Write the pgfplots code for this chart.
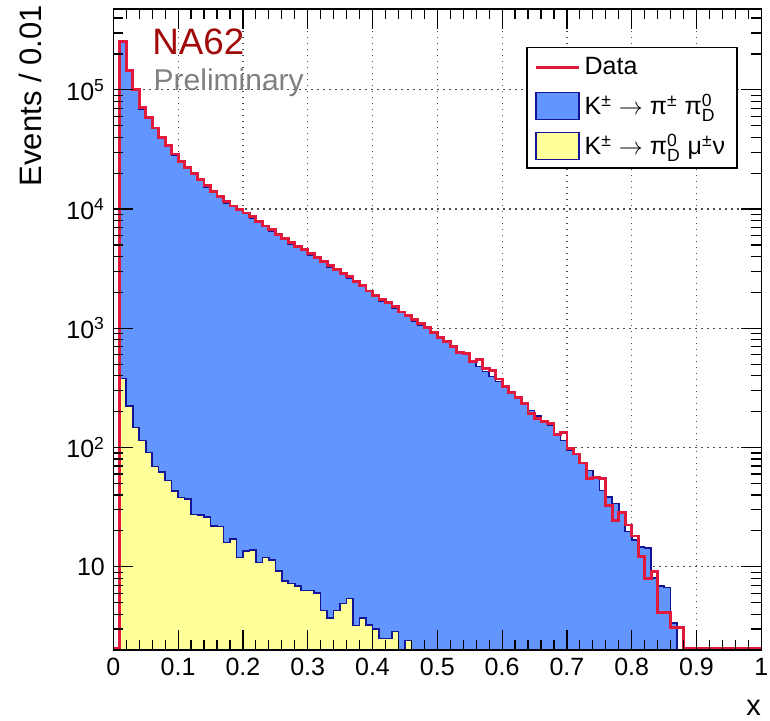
\documentclass[border=0pt]{standalone}
\usepackage{fontspec}
\setmainfont{Liberation Sans}
\setsansfont{Liberation Sans}
\usepackage{pgfplots}
\usepackage{pgfplotstable}
\pgfplotsset{compat=1.18}

\definecolor{mcblue}{RGB}{99,149,255}
\definecolor{mcline}{RGB}{20,20,150}
\definecolor{kmuyel}{RGB}{255,255,153}
\definecolor{datared}{RGB}{225,25,60}
\definecolor{nared}{RGB}{160,10,10}

\newcommand{\scr}[1]{\mbox{\fontsize{8.8}{9}\selectfont #1}}
\newcommand{\pizd}{π$^{\scr{0}}_{\scr{D}}$}

% grid under the histograms, ticks and frame above them (ROOT style)
\pgfplotsset{
  layers/gridbelow/.define layer set={
    axis background,axis grid,main,axis ticks,axis lines,axis tick labels,axis descriptions,axis foreground
  }{
    grid style={/pgfplots/on layer=axis grid},
    tick style={/pgfplots/on layer=axis ticks},
    axis line style={/pgfplots/on layer=axis lines},
    label style={/pgfplots/on layer=axis descriptions},
    legend style={/pgfplots/on layer=axis descriptions},
    title style={/pgfplots/on layer=axis descriptions},
    colorbar style={/pgfplots/on layer=axis descriptions},
    ticklabel style={/pgfplots/on layer=axis tick labels},
    axis background@ style={/pgfplots/on layer=axis background},
    3d box foreground style={/pgfplots/on layer=axis foreground},
  },
  hline legend/.style={legend image code/.code={\draw[##1] (0pt,0pt) -- (21.5pt,0pt);}},
  hbox legend/.style={legend image code/.code={\draw[##1] (0pt,-6.75pt) rectangle (21.5pt,6.75pt);}},
}

% x = left bin edge, bins of 0.01; 0.5 = empty bin (below ymin)
\pgfplotstableread{
x    data    mc      yel
0.00 2.06    0.5     0.5
0.01 254000  254000  380
0.02 145000  145000  223
0.03 100000  100000  147
0.04 71600   69000   114
0.05 59000   59000   91
0.06 47800   47800   69
0.07 40100   40100   62
0.08 33900   33900   53
0.09 29000   28500   43
0.10 25100   25100   38
0.11 22300   22300   37
0.12 20000   19500   27.5
0.13 17600   17600   27
0.14 15700   15300   26
0.15 14000   14000   22
0.16 12700   12700   21.7
0.17 11600   11300   16
0.18 10600   10600   17
0.19 9900    9700    11.9
0.20 9250    9250    13.6
0.21 8600    8350    13.8
0.22 7900    7900    10.8
0.23 7200    7200    11.9
0.24 6700    6500    11.4
0.25 6150    6150    9.2
0.26 5650    5650    7.6
0.27 5250    5100    7.2
0.28 4850    4850    6.9
0.29 4550    4550    6.3
0.30 4250    4100    6.3
0.31 3950    3950    6.0
0.32 3650    3650    4.3
0.33 3380    3250    3.7
0.34 3120    3120    4.3
0.35 2900    2900    4.9
0.36 2700    2620    5.4
0.37 2480    2480    3.2
0.38 2280    2280    3.7
0.39 2050    2050    3.25
0.40 1870    1870    3.0
0.41 1730    1680    2.5
0.42 1640    1640    2.5
0.43 1520    1480    2.85
0.44 1370    1370    0.5
0.45 1270    1270    2.4
0.46 1190    1150    0.5
0.47 1100    1060    0.5
0.48 1020    1020    0.5
0.49 920     920     0.5
0.50 842     842     0.5
0.51 780     780     0.5
0.52 703     703     0.5
0.53 630     630     0.5
0.54 618     605     0.5
0.55 526     526     0.5
0.56 543     477     0.5
0.57 463     433     0.5
0.58 442     393     0.5
0.59 376     357     0.5
0.60 324     324     0.5
0.61 289     289     0.5
0.62 262     262     0.5
0.63 232     232     0.5
0.64 194     204     0.5
0.65 176     184     0.5
0.66 165     165     0.5
0.67 158     155     0.5
0.68 128     128     0.5
0.69 133     114     0.5
0.70 98.6    95      0.5
0.71 88      88      0.5
0.72 74      74      0.5
0.73 54.6    64      0.5
0.74 56      57      0.5
0.75 55      43.5    0.5
0.76 32.4    38.3    0.5
0.77 24.4    34      0.5
0.78 28.4    28      0.5
0.79 22.4    19.7    0.5
0.80 18.1    16.8    0.5
0.81 12.2    14.6    0.5
0.82 8.0     14.3    0.5
0.83 9.1     8.0     0.5
0.84 4.1     6.9     0.5
0.85 4.1     6.7     0.5
0.86 3.1     3.36    0.5
0.87 3.1     0.5     0.5
0.88 2.06    0.5     0.5
0.89 2.06    0.5     0.5
0.90 2.06    0.5     0.5
0.91 2.06    0.5     0.5
0.92 2.06    0.5     0.5
0.93 2.06    0.5     0.5
0.94 2.06    0.5     0.5
0.95 2.06    0.5     0.5
0.96 2.06    0.5     0.5
0.97 2.06    0.5     0.5
0.98 2.06    0.5     0.5
0.99 2.06    0.5     0.5
1.00 2.06    0.5     0.5
}\hist

\begin{document}
\begin{tikzpicture}
\begin{axis}[
  set layers=gridbelow,
  scale only axis, width=324pt, height=320.4pt,
  ymode=log,
  xmin=0, xmax=1, ymin=2, ymax=4.75e5,
  xtick={0,0.1,0.2,0.3,0.4,0.5,0.6,0.7,0.8,0.9,1},
  xticklabels={0,0.1,0.2,0.3,0.4,0.5,0.6,0.7,0.8,0.9,1},
  minor x tick num=4,
  ytick={10,100,1000,10000,100000},
  yticklabels={10,10\textsuperscript{2},10\textsuperscript{3},10\textsuperscript{4},10\textsuperscript{5}},
  minor ytick={2,3,4,5,6,7,8,9,20,30,40,50,60,70,80,90,200,300,400,500,600,700,800,900,
    2000,3000,4000,5000,6000,7000,8000,9000,20000,30000,40000,50000,60000,70000,80000,90000,
    200000,300000,400000},
  tick align=inside,
  major tick length=10pt, minor tick length=5pt,
  tick style={black, line width=0.6pt},
  axis line style={line width=0.75pt},
  grid=major,
  major grid style={black!70, line width=0.6pt, dash pattern=on 0.6pt off 2.4pt},
  xticklabel style={font=\fontsize{12.5}{14}\selectfont, inner sep=0pt, yshift=-4pt},
  yticklabel style={font=\fontsize{12.5}{14}\selectfont, inner sep=0pt, xshift=-4pt},
  xlabel={x},
  xlabel style={at={(axis description cs:1,0)}, anchor=north east, inner sep=0pt,
    yshift=-25pt, font=\fontsize{14.5}{17}\selectfont},
  ylabel={Events / 0.01},
  ylabel style={at={(axis description cs:-0.11,1.0067)}, anchor=south east, inner sep=0pt,
    font=\fontsize{15.5}{18}\selectfont},
  legend cell align=left,
  legend style={at={(rel axis cs:0.637,0.941)}, anchor=north west, draw=black,
    line width=0.75pt, fill=white, font=\fontsize{12.5}{14}\selectfont,
    inner xsep=4pt, inner ysep=3pt, row sep=4pt},
]
\addplot[const plot, fill=mcblue, draw=mcline, line width=0.8pt, forget plot]
  table[x=x, y=mc]{\hist} \closedcycle;
\addplot[const plot, fill=kmuyel, draw=mcline, line width=0.8pt, forget plot]
  table[x=x, y=yel]{\hist} \closedcycle;
\addplot[const plot, draw=datared, line width=1.4pt, forget plot]
  table[x=x, y=data]{\hist};

\addlegendimage{hline legend, datared, line width=1.4pt}
\addlegendentry{Data}
\addlegendimage{hbox legend, fill=mcblue, draw=mcline, line width=0.8pt}
\addlegendentry{K\textsuperscript{±} $\rightarrow$ π\textsuperscript{±} \pizd}
\addlegendimage{hbox legend, fill=kmuyel, draw=mcline, line width=0.8pt}
\addlegendentry{K\textsuperscript{±} $\rightarrow$ \pizd{} μ\textsuperscript{±}ν}

\node[anchor=base west, text=nared, inner sep=0pt, font=\fontsize{18.4}{20}\selectfont]
  at (rel axis cs:0.0597,0.9287) {NA62};
\node[anchor=base west, text=gray, inner sep=0pt, font=\fontsize{15}{17}\selectfont]
  at (rel axis cs:0.0617,0.873) {Preliminary};
\end{axis}
\pgfresetboundingbox
\useasboundingbox (-56.65pt,-35.5pt) rectangle (328.35pt,325pt);
\end{tikzpicture}
\end{document}
